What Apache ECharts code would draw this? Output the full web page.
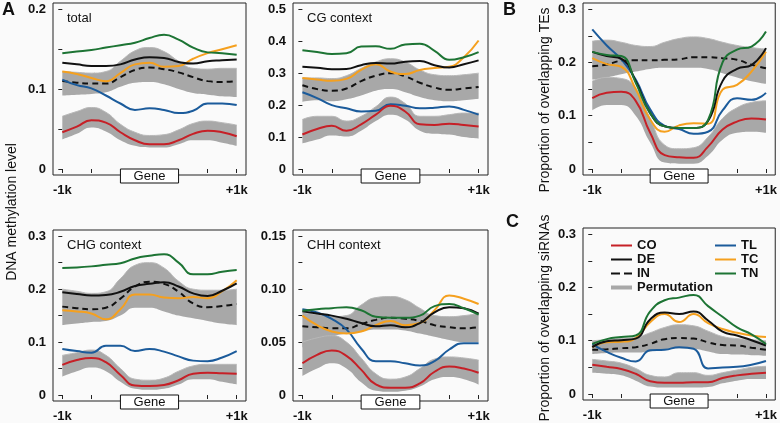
<!DOCTYPE html>
<html>
<head>
<meta charset="utf-8">
<script src="https://cdn.jsdelivr.net/npm/echarts@6/dist/echarts.min.js"></script>
<style>
html, body { margin: 0; padding: 0; background: #fafafa; }
#chart { width: 780px; height: 423px; }
</style>
</head>
<body>
<div id="chart"></div>
<script>
// bins: -1k ... TSS (20) ... TES (40) ... +1k (60)
const xPos = [0, 5, 10, 15, 20, 25, 30, 35, 40, 45, 50, 55, 60];
const xTicks = [0, 10, 50, 60];
const xLabels = { 0: '-1k', 60: '+1k' };

// total methylation
const totalCO = [0.046, 0.053, 0.061, 0.058, 0.046, 0.036, 0.031, 0.031, 0.036, 0.044, 0.048, 0.046, 0.041];
const totalDE = [0.133, 0.131, 0.129, 0.129, 0.131, 0.137, 0.140, 0.139, 0.134, 0.132, 0.135, 0.136, 0.137];
const totalIN = [0.110, 0.108, 0.107, 0.107, 0.115, 0.124, 0.127, 0.125, 0.121, 0.115, 0.110, 0.109, 0.110];
const totalTL = [0.112, 0.105, 0.101, 0.092, 0.082, 0.074, 0.076, 0.074, 0.070, 0.073, 0.082, 0.082, 0.080];
const totalTC = [0.122, 0.119, 0.114, 0.110, 0.120, 0.131, 0.133, 0.128, 0.129, 0.138, 0.145, 0.150, 0.155];
const totalTN = [0.145, 0.147, 0.149, 0.152, 0.155, 0.158, 0.164, 0.168, 0.162, 0.152, 0.146, 0.145, 0.143];
const totalPermHiLo = [0.092, 0.093, 0.094, 0.096, 0.103, 0.108, 0.109, 0.106, 0.100, 0.095, 0.093, 0.091, 0.090];
const totalPermHiUp = [0.122, 0.121, 0.120, 0.122, 0.135, 0.148, 0.152, 0.147, 0.135, 0.126, 0.125, 0.126, 0.126];
const totalPermLoLo = [0.037, 0.044, 0.052, 0.047, 0.036, 0.029, 0.027, 0.027, 0.031, 0.036, 0.036, 0.033, 0.029];
const totalPermLoUp = [0.066, 0.072, 0.077, 0.071, 0.056, 0.046, 0.042, 0.043, 0.049, 0.057, 0.060, 0.058, 0.055];

// CG context
const cgCO = [0.108, 0.125, 0.135, 0.120, 0.140, 0.170, 0.198, 0.180, 0.140, 0.138, 0.142, 0.138, 0.133];
const cgDE = [0.320, 0.317, 0.312, 0.313, 0.325, 0.332, 0.330, 0.336, 0.338, 0.325, 0.318, 0.328, 0.340];
const cgIN = [0.262, 0.250, 0.245, 0.252, 0.275, 0.292, 0.300, 0.290, 0.270, 0.255, 0.248, 0.252, 0.257];
const cgTL = [0.240, 0.222, 0.200, 0.190, 0.180, 0.182, 0.203, 0.198, 0.190, 0.192, 0.196, 0.185, 0.170];
const cgTC = [0.285, 0.280, 0.276, 0.282, 0.310, 0.328, 0.305, 0.297, 0.310, 0.316, 0.320, 0.350, 0.402];
const cgTN = [0.372, 0.366, 0.360, 0.362, 0.383, 0.384, 0.376, 0.390, 0.392, 0.370, 0.342, 0.350, 0.366];
const cgPermHiLo = [0.210, 0.215, 0.212, 0.218, 0.230, 0.245, 0.250, 0.240, 0.225, 0.215, 0.212, 0.215, 0.220];
const cgPermHiUp = [0.285, 0.285, 0.283, 0.292, 0.315, 0.335, 0.345, 0.335, 0.310, 0.295, 0.292, 0.295, 0.300];
const cgPermLoLo = [0.080, 0.092, 0.105, 0.102, 0.120, 0.150, 0.170, 0.155, 0.120, 0.110, 0.108, 0.100, 0.095];
const cgPermLoUp = [0.155, 0.165, 0.165, 0.150, 0.165, 0.195, 0.225, 0.205, 0.165, 0.165, 0.170, 0.175, 0.175];

// B: overlapping TEs
const teCO = [0.133, 0.143, 0.145, 0.128, 0.068, 0.026, 0.022, 0.021, 0.042, 0.074, 0.089, 0.095, 0.093];
const teDE = [0.220, 0.212, 0.207, 0.165, 0.105, 0.080, 0.077, 0.077, 0.090, 0.165, 0.188, 0.195, 0.227];
const teIN = [0.193, 0.196, 0.203, 0.204, 0.204, 0.205, 0.206, 0.210, 0.210, 0.208, 0.205, 0.196, 0.189];
const teTL = [0.262, 0.232, 0.206, 0.168, 0.112, 0.081, 0.075, 0.066, 0.070, 0.110, 0.133, 0.130, 0.143];
const teTC = [0.208, 0.197, 0.192, 0.150, 0.093, 0.070, 0.082, 0.086, 0.085, 0.149, 0.158, 0.183, 0.220];
const teTN = [0.220, 0.214, 0.212, 0.162, 0.105, 0.080, 0.077, 0.077, 0.092, 0.200, 0.224, 0.230, 0.258];
const tePermHiLo = [0.168, 0.172, 0.178, 0.183, 0.188, 0.190, 0.190, 0.190, 0.188, 0.180, 0.172, 0.165, 0.160];
const tePermHiUp = [0.240, 0.242, 0.238, 0.232, 0.230, 0.238, 0.245, 0.248, 0.245, 0.238, 0.232, 0.228, 0.225];
const tePermLoLo = [0.110, 0.120, 0.120, 0.100, 0.050, 0.012, 0.010, 0.010, 0.025, 0.055, 0.068, 0.070, 0.068];
const tePermLoUp = [0.165, 0.172, 0.170, 0.152, 0.095, 0.045, 0.038, 0.040, 0.060, 0.095, 0.115, 0.125, 0.128];

// CHG context
const chgCO = [0.057, 0.066, 0.070, 0.062, 0.038, 0.018, 0.017, 0.019, 0.028, 0.040, 0.042, 0.041, 0.040];
const chgDE = [0.194, 0.191, 0.188, 0.189, 0.195, 0.206, 0.210, 0.213, 0.205, 0.192, 0.187, 0.197, 0.211];
const chgIN = [0.167, 0.164, 0.162, 0.165, 0.182, 0.205, 0.214, 0.210, 0.195, 0.173, 0.166, 0.168, 0.172];
const chgTL = [0.087, 0.083, 0.080, 0.093, 0.093, 0.083, 0.087, 0.082, 0.073, 0.065, 0.064, 0.071, 0.083];
const chgTC = [0.160, 0.158, 0.154, 0.143, 0.162, 0.190, 0.190, 0.184, 0.183, 0.185, 0.183, 0.196, 0.217];
const chgTN = [0.240, 0.241, 0.243, 0.246, 0.249, 0.258, 0.263, 0.266, 0.250, 0.228, 0.228, 0.233, 0.236];
const chgPermHiLo = [0.132, 0.135, 0.138, 0.140, 0.150, 0.165, 0.165, 0.158, 0.150, 0.145, 0.140, 0.135, 0.132];
const chgPermHiUp = [0.200, 0.196, 0.192, 0.195, 0.220, 0.245, 0.250, 0.240, 0.215, 0.200, 0.198, 0.198, 0.200];
const chgPermLoLo = [0.035, 0.045, 0.052, 0.045, 0.025, 0.012, 0.010, 0.012, 0.020, 0.030, 0.030, 0.025, 0.020];
const chgPermLoUp = [0.075, 0.080, 0.085, 0.075, 0.050, 0.030, 0.028, 0.032, 0.045, 0.055, 0.058, 0.058, 0.058];

// CHH context
const chhCO = [0.030, 0.038, 0.042, 0.037, 0.024, 0.010, 0.007, 0.007, 0.011, 0.022, 0.027, 0.025, 0.021];
const chhDE = [0.079, 0.077, 0.075, 0.072, 0.068, 0.065, 0.066, 0.064, 0.068, 0.078, 0.083, 0.082, 0.077];
const chhIN = [0.065, 0.064, 0.063, 0.063, 0.067, 0.071, 0.073, 0.072, 0.070, 0.066, 0.064, 0.063, 0.064];
const chhTL = [0.081, 0.078, 0.072, 0.062, 0.044, 0.032, 0.032, 0.030, 0.028, 0.032, 0.043, 0.049, 0.049];
const chhTC = [0.075, 0.066, 0.060, 0.058, 0.060, 0.066, 0.070, 0.066, 0.068, 0.080, 0.094, 0.091, 0.086];
const chhTN = [0.0795, 0.081, 0.082, 0.083, 0.080, 0.074, 0.073, 0.073, 0.075, 0.084, 0.086, 0.082, 0.076];
const chhPermHiLo = [0.045, 0.050, 0.055, 0.058, 0.060, 0.062, 0.062, 0.061, 0.058, 0.055, 0.052, 0.050, 0.050];
const chhPermHiUp = [0.078, 0.076, 0.074, 0.075, 0.085, 0.092, 0.093, 0.090, 0.082, 0.075, 0.074, 0.075, 0.077];
const chhPermLoLo = [0.018, 0.025, 0.030, 0.025, 0.012, 0.004, 0.003, 0.004, 0.008, 0.015, 0.017, 0.015, 0.010];
const chhPermLoUp = [0.050, 0.054, 0.056, 0.050, 0.035, 0.020, 0.015, 0.017, 0.025, 0.034, 0.036, 0.035, 0.033];

// C: overlapping siRNAs
const siCO = [0.055, 0.051, 0.047, 0.038, 0.024, 0.021, 0.021, 0.022, 0.022, 0.030, 0.035, 0.038, 0.040];
const siDE = [0.088, 0.099, 0.101, 0.104, 0.140, 0.153, 0.150, 0.155, 0.138, 0.117, 0.110, 0.101, 0.091];
const siIN = [0.083, 0.084, 0.086, 0.088, 0.094, 0.103, 0.105, 0.104, 0.097, 0.092, 0.091, 0.087, 0.083];
const siTL = [0.093, 0.079, 0.068, 0.061, 0.082, 0.083, 0.088, 0.085, 0.048, 0.050, 0.051, 0.055, 0.062];
const siTC = [0.088, 0.097, 0.098, 0.105, 0.135, 0.150, 0.135, 0.150, 0.133, 0.122, 0.115, 0.110, 0.107];
const siTN = [0.094, 0.103, 0.107, 0.110, 0.155, 0.176, 0.181, 0.186, 0.165, 0.145, 0.125, 0.112, 0.094];
const siPermHiLo = [0.075, 0.077, 0.078, 0.078, 0.080, 0.084, 0.086, 0.085, 0.080, 0.075, 0.074, 0.073, 0.072];
const siPermHiUp = [0.100, 0.102, 0.104, 0.106, 0.115, 0.125, 0.130, 0.128, 0.118, 0.108, 0.104, 0.102, 0.100];
const siPermLoLo = [0.040, 0.038, 0.035, 0.025, 0.014, 0.012, 0.012, 0.012, 0.013, 0.020, 0.025, 0.028, 0.028];
const siPermLoUp = [0.065, 0.062, 0.058, 0.048, 0.035, 0.032, 0.040, 0.040, 0.035, 0.040, 0.045, 0.050, 0.052];

const colors = { CO: '#c62027', DE: '#111111', IN: '#111111', TL: '#1b5b9b', TC: '#f5a01e', TN: '#1d7434' };
const permColor = '#a8a8a8';

const panels = [
    { title: 'total', grid: { left: 53, top: 3, width: 193, height: 172 }, yTop: 0.2, yStep: 0.1, minor: true, dec: 1,
      lines: { CO: totalCO, DE: totalDE, IN: totalIN, TL: totalTL, TC: totalTC, TN: totalTN },
      perm: [[totalPermHiLo, totalPermHiUp], [totalPermLoLo, totalPermLoUp]] },
    { title: 'CG context', grid: { left: 293, top: 3, width: 195, height: 172 }, yTop: 0.5, yStep: 0.1, minor: false, dec: 1,
      lines: { CO: cgCO, DE: cgDE, IN: cgIN, TL: cgTL, TC: cgTC, TN: cgTN },
      perm: [[cgPermHiLo, cgPermHiUp], [cgPermLoLo, cgPermLoUp]] },
    { title: '', grid: { left: 583, top: 3, width: 195, height: 172 }, yTop: 0.3, yStep: 0.1, minor: true, dec: 1,
      lines: { CO: teCO, DE: teDE, IN: teIN, TL: teTL, TC: teTC, TN: teTN },
      perm: [[tePermHiLo, tePermHiUp], [tePermLoLo, tePermLoUp]] },
    { title: 'CHG context', grid: { left: 53, top: 230, width: 193, height: 172 }, yTop: 0.3, yStep: 0.1, minor: true, dec: 1,
      lines: { CO: chgCO, DE: chgDE, IN: chgIN, TL: chgTL, TC: chgTC, TN: chgTN },
      perm: [[chgPermHiLo, chgPermHiUp], [chgPermLoLo, chgPermLoUp]] },
    { title: 'CHH context', grid: { left: 293, top: 230, width: 195, height: 172 }, yTop: 0.15, yStep: 0.05, minor: true, dec: 2,
      lines: { CO: chhCO, DE: chhDE, IN: chhIN, TL: chhTL, TC: chhTC, TN: chhTN },
      perm: [[chhPermHiLo, chhPermHiUp], [chhPermLoLo, chhPermLoUp]] },
    { title: '', grid: { left: 583, top: 228, width: 195, height: 172 }, yTop: 0.3, yStep: 0.1, minor: true, dec: 1,
      lines: { CO: siCO, DE: siDE, IN: siIN, TL: siTL, TC: siTC, TN: siTN },
      perm: [[siPermHiLo, siPermHiUp], [siPermLoLo, siPermLoUp]] }
];

const font = 'Liberation Sans, Arial, sans-serif';
const chart = echarts.init(document.getElementById('chart'));

const grids = [], xAxes = [], yAxes = [], series = [], graphics = [];

panels.forEach((p, i) => {
    grids.push(Object.assign({ show: true, borderColor: '#222', borderWidth: 1, backgroundColor: 'transparent' }, p.grid));

    xAxes.push({
        type: 'value', gridIndex: i, min: -3.2, max: 63.2,
        axisLine: { show: false },
        splitLine: { show: false },
        axisTick: { show: true, inside: false, length: 4, customValues: xTicks, lineStyle: { color: '#222' } },
        axisLabel: { customValues: [0, 60], margin: 9, color: '#111', fontSize: 13, fontWeight: 'bold', fontFamily: font,
            formatter: v => xLabels[v] || '' }
    });

    const majors = [], ticks = [];
    const nMaj = Math.round(p.yTop / p.yStep);
    for (let k = 0; k <= nMaj; k++) {
        majors.push(+(k * p.yStep).toFixed(4));
        ticks.push(+(k * p.yStep).toFixed(4));
        if (p.minor && k < nMaj) ticks.push(+((k + 0.5) * p.yStep).toFixed(4));
    }
    yAxes.push({
        type: 'value', gridIndex: i, min: -p.yTop * 0.0375, max: p.yTop * 1.039,
        axisLine: { show: false },
        splitLine: { show: false },
        axisTick: { show: true, length: 4, customValues: ticks, lineStyle: { color: '#222' } },
        axisLabel: { customValues: majors, margin: 7, color: '#111', fontSize: 13, fontWeight: 'bold', fontFamily: font,
            formatter: v => (Math.abs(v) < 1e-9 ? '0' : v.toFixed(p.dec)) }
    });

    // permutation bundles drawn as filled bands (value stored first so the stack runs on y)
    p.perm.forEach((band, b) => {
        const stack = 'perm' + i + '_' + b;
        series.push({
            type: 'line', name: 'permBase', xAxisIndex: i, yAxisIndex: i, stack: stack, smooth: true,
            symbol: 'none', lineStyle: { opacity: 0 }, silent: true,
            encode: { x: 1, y: 0 },
            data: xPos.map((x, k) => [band[0][k], x])
        });
        series.push({
            type: 'line', name: 'permBand', xAxisIndex: i, yAxisIndex: i, stack: stack, smooth: true,
            symbol: 'none', lineStyle: { color: '#b8b8b8', width: 1 }, silent: true,
            areaStyle: { color: permColor, opacity: 1 },
            encode: { x: 1, y: 0 },
            data: xPos.map((x, k) => [band[1][k] - band[0][k], x])
        });
    });

    ['IN', 'TL', 'TC', 'DE', 'TN', 'CO'].forEach(name => {
        series.push({
            type: 'line', name: name, xAxisIndex: i, yAxisIndex: i, smooth: true, symbol: 'none',
            lineStyle: { color: colors[name], width: 2, type: name === 'IN' ? [6, 4] : 'solid' },
            itemStyle: { color: colors[name] },
            data: xPos.map((x, k) => [x, p.lines[name][k]])
        });
    });

    if (p.title) {
        graphics.push({
            type: 'text', left: p.grid.left + 14, top: p.grid.top + 9, z: 100,
            style: { text: p.title, fontSize: 13, fontFamily: font, fill: '#111' }
        });
    }
});

// legend-only series for the permutation swatch
series.push({
    type: 'line', name: 'Permutation', xAxisIndex: 5, yAxisIndex: 5, symbol: 'none',
    lineStyle: { color: permColor, width: 4 }, itemStyle: { color: permColor }, data: []
});

// panel letters and axis names
graphics.push(
    { type: 'text', left: 2, top: 1, style: { text: 'A', fontSize: 18, fontWeight: 'bold', fontFamily: font, fill: '#111' } },
    { type: 'text', left: 503, top: 1, style: { text: 'B', fontSize: 18, fontWeight: 'bold', fontFamily: font, fill: '#111' } },
    { type: 'text', left: 506, top: 213, style: { text: 'C', fontSize: 18, fontWeight: 'bold', fontFamily: font, fill: '#111' } },
    { type: 'text', x: 12, y: 212, rotation: Math.PI / 2,
      style: { text: 'DNA methylation level', fontSize: 14, fontFamily: font, fill: '#111', align: 'center', verticalAlign: 'middle' } },
    { type: 'text', x: 545, y: 100, rotation: Math.PI / 2,
      style: { text: 'Proportion of overlapping TEs', fontSize: 14, fontFamily: font, fill: '#111', align: 'center', verticalAlign: 'middle' } },
    { type: 'text', x: 545, y: 318, rotation: Math.PI / 2,
      style: { text: 'Proportion of overlapping siRNAs', fontSize: 14, fontFamily: font, fill: '#111', align: 'center', verticalAlign: 'middle' } }
);

const legendText = { fontSize: 13, fontWeight: 'bold', fontFamily: font, color: '#111', lineHeight: 13 };
const legendBase = { orient: 'vertical', itemWidth: 21, itemHeight: 2, itemGap: 1, selectedMode: false, textStyle: legendText };

const option = {
    backgroundColor: '#fafafa',
    animation: false,
    grid: grids,
    xAxis: xAxes,
    yAxis: yAxes,
    legend: [
        Object.assign({}, legendBase, { left: 606, top: 234, data: [
            { name: 'CO', icon: 'rect' },
            { name: 'DE', icon: 'rect' },
            { name: 'IN', icon: 'path://M0,0H9V2H0Z M13,0H21V2H13Z' }
        ] }),
        Object.assign({}, legendBase, { left: 606, top: 276, itemHeight: 4, data: [{ name: 'Permutation', icon: 'rect' }] }),
        Object.assign({}, legendBase, { left: 710, top: 234, data: [
            { name: 'TL', icon: 'rect' },
            { name: 'TC', icon: 'rect' },
            { name: 'TN', icon: 'rect' }
        ] })
    ],
    series: series,
    graphic: graphics
};

chart.setOption(option);

// "Gene" boxes placed with the axes' own scales
const geneBoxes = [];
panels.forEach((p, i) => {
    const a = chart.convertToPixel({ xAxisIndex: i, yAxisIndex: i }, [20, -p.yTop * 0.0375]);
    const b = chart.convertToPixel({ xAxisIndex: i, yAxisIndex: i }, [40, -p.yTop * 0.0375]);
    geneBoxes.push({
        type: 'group', z: 100,
        children: [
            { type: 'rect', shape: { x: a[0], y: a[1] - 6, width: b[0] - a[0], height: 14 },
              style: { fill: '#fff', stroke: '#111', lineWidth: 1 } },
            { type: 'text', x: (a[0] + b[0]) / 2, y: a[1] + 1,
              style: { text: 'Gene', fontSize: 13, fontFamily: font, fill: '#111', align: 'center', verticalAlign: 'middle' } }
        ]
    });
});
chart.setOption({ graphic: graphics.concat(geneBoxes) });
</script>
</body>
</html>
